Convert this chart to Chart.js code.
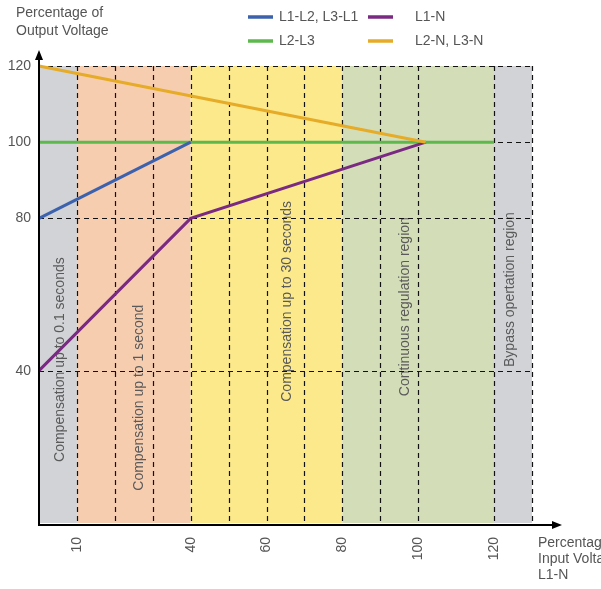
<!DOCTYPE html>
<html>
<head>
<meta charset="utf-8">
<script src="https://cdn.jsdelivr.net/npm/chart.js@4"></script>
<style>
  html, body { margin: 0; padding: 0; background: #fff; }
  #wrap { width: 601px; height: 589px; }
</style>
</head>
<body>
<div id="wrap"><canvas id="myChart" width="601" height="589"></canvas></div>
<script>
// data
var blueX = [0, 40];      var blueY = [80, 100];
var greenX = [0, 120];    var greenY = [100, 100];
var orangeX = [0, 102];   var orangeY = [120, 100];
var purpleX = [0, 40, 102]; var purpleY = [40, 80, 100];

var xTicks = [10, 40, 60, 80, 100, 120];
var yTicks = [40, 80, 100, 120];
var xGrid = [10, 20, 30, 40, 50, 60, 70, 80, 90, 100, 120, 130];
var yGrid = [40, 80, 100, 120];

var bandStart = [0, 10, 40, 80, 120];
var bandEnd = [10, 40, 80, 120, 130];
var bandText = ['Compensation up to 0.1 seconds', 'Compensation up to 1 second',
    'Compensation up to 30 seconds', 'Continuous regulation region', 'Bypass opertation region'];

// styles / layout
var bandColor = ['#d1d3d6', '#f7cdb0', '#fbe98b', '#d3ddb8', '#d1d3d6'];
var textX = [5.7, 26.3, 65.5, 96.6, 124.2];
var textY = [42.9, 32.9, 58.2, 56.8, 61.3];
var FONT = '"Liberation Sans", Arial, sans-serif';
var TXT = '#555555';

function pts(xs, ys) {
    return xs.map(function (x, i) { return { x: x, y: ys[i] }; });
}

var bgPlugin = {
    id: 'bg',
    beforeDatasetsDraw: function (chart) {
        var c = chart.ctx, xs = chart.scales.x, ys = chart.scales.y;
        var top = ys.getPixelForValue(120), bot = ys.getPixelForValue(0);
        c.save();
        // bands
        for (var i = 0; i < bandStart.length; i++) {
            var a = xs.getPixelForValue(bandStart[i]), b = xs.getPixelForValue(bandEnd[i]);
            c.fillStyle = bandColor[i];
            c.fillRect(a, top, b - a, bot - top);
        }
        // rotated region texts
        c.fillStyle = '#5a5a5a';
        c.font = '14px ' + FONT;
        c.textAlign = 'center';
        c.textBaseline = 'middle';
        for (var j = 0; j < bandText.length; j++) {
            c.save();
            c.translate(xs.getPixelForValue(textX[j]), ys.getPixelForValue(textY[j]));
            c.rotate(-Math.PI / 2);
            c.fillText(bandText[j], 0, 0);
            c.restore();
        }
        // dashed grid
        c.strokeStyle = '#111';
        c.lineWidth = 1.2;
        c.setLineDash([5, 4]);
        xGrid.forEach(function (v) {
            var px = Math.round(xs.getPixelForValue(v)) + 0.5;
            c.beginPath(); c.moveTo(px, top); c.lineTo(px, bot); c.stroke();
        });
        yGrid.forEach(function (v) {
            var py = Math.round(ys.getPixelForValue(v)) + 0.5;
            c.beginPath(); c.moveTo(xs.getPixelForValue(0), py); c.lineTo(xs.getPixelForValue(130), py); c.stroke();
        });
        c.restore();
    },
    afterDraw: function (chart) {
        var c = chart.ctx, xs = chart.scales.x, ys = chart.scales.y;
        var x0 = xs.getPixelForValue(0), y0 = ys.getPixelForValue(0) + 2;
        c.save();
        // axes with arrows
        c.strokeStyle = '#000';
        c.fillStyle = '#000';
        c.lineWidth = 2;
        c.beginPath(); c.moveTo(x0, y0 + 1); c.lineTo(x0, 56); c.stroke();
        c.beginPath(); c.moveTo(x0, 50); c.lineTo(x0 - 4, 60); c.lineTo(x0 + 4, 60); c.closePath(); c.fill();
        c.beginPath(); c.moveTo(x0 - 1, y0); c.lineTo(556, y0); c.stroke();
        c.beginPath(); c.moveTo(562, y0); c.lineTo(552, y0 - 4); c.lineTo(552, y0 + 4); c.closePath(); c.fill();

        // axis titles
        c.fillStyle = TXT;
        c.font = '14px ' + FONT;
        c.textAlign = 'left';
        c.textBaseline = 'middle';
        c.fillText('Percentage of', 16, 13);
        c.fillText('Output Voltage', 16, 31);
        c.fillText('Percentage of', 538, 543);
        c.fillText('Input Voltage', 538, 559);
        c.fillText('L1-N', 538, 575);

        // legend
        var items = [
            ['L1-L2, L3-L1', '#3d62ad', 248, 17],
            ['L1-N', '#7b2a83', 368, 17],
            ['L2-L3', '#5db94b', 248, 41],
            ['L2-N, L3-N', '#e6ab27', 368, 41]
        ];
        items.forEach(function (it) {
            var tx = it[2] === 248 ? 279 : 415;
            c.strokeStyle = it[1];
            c.lineWidth = 3.5;
            c.beginPath(); c.moveTo(it[2], it[3]); c.lineTo(it[2] + 25, it[3]); c.stroke();
            c.fillStyle = TXT;
            c.fillText(it[0], tx, it[3]);
        });
        c.restore();
    }
};

var ctx = document.getElementById('myChart').getContext('2d');
var lineStyle = { borderWidth: 3, pointRadius: 0, tension: 0, fill: false, clip: 8 };

var myChart = new Chart(ctx, {
    type: 'line',
    data: {
        datasets: [
            Object.assign({ label: 'L2-N, L3-N', data: pts(orangeX, orangeY), borderColor: '#e6ab27' }, lineStyle),
            Object.assign({ label: 'L1-N', data: pts(purpleX, purpleY), borderColor: '#7b2a83' }, lineStyle),
            Object.assign({ label: 'L1-L2, L3-L1', data: pts(blueX, blueY), borderColor: '#3d62ad' }, lineStyle),
            Object.assign({ label: 'L2-L3', data: pts(greenX, greenY), borderColor: '#5db94b' }, lineStyle)
        ]
    },
    options: {
        responsive: false,
        animation: false,
        layout: { padding: { top: 66, right: 69, left: 0, bottom: 0 } },
        plugins: { legend: { display: false }, tooltip: { enabled: false } },
        scales: {
            x: {
                type: 'linear', min: 0, max: 130,
                grid: { display: false }, border: { display: false },
                afterBuildTicks: function (axis) { axis.ticks = xTicks.map(function (v) { return { value: v }; }); },
                afterFit: function (axis) { axis.height = 66; },
                ticks: { minRotation: 90, maxRotation: 90, padding: 6, color: TXT, font: { size: 14, family: FONT } }
            },
            y: {
                min: 0, max: 120,
                grid: { display: false }, border: { display: false },
                afterBuildTicks: function (axis) { axis.ticks = yTicks.map(function (v) { return { value: v }; }); },
                afterFit: function (axis) { axis.width = 39; },
                ticks: { padding: 0, color: TXT, font: { size: 14, family: FONT } }
            }
        }
    },
    plugins: [bgPlugin]
});
</script>
</body>
</html>
